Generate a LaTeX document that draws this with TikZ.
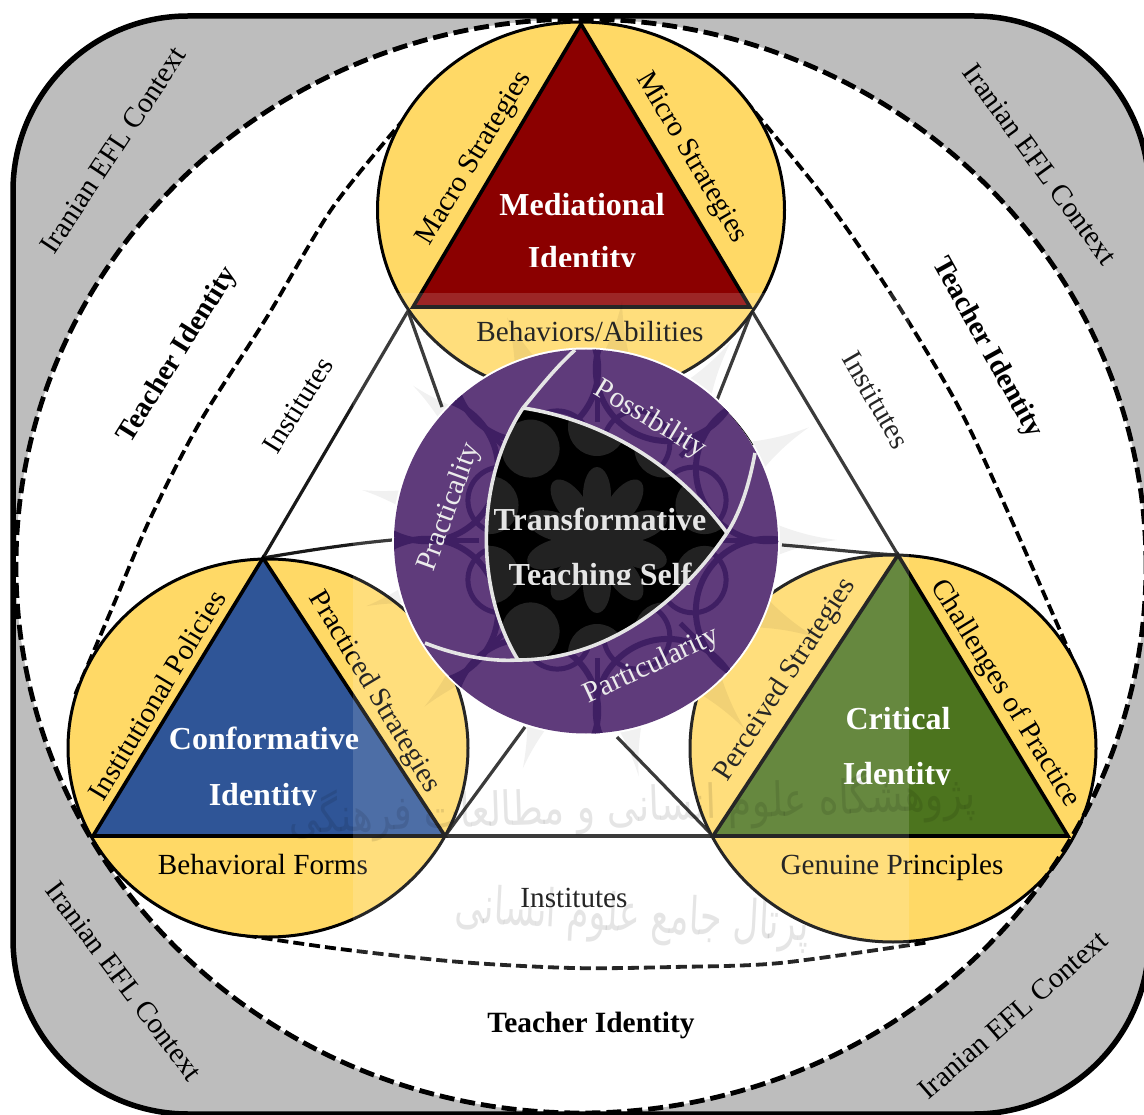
\documentclass[tikz,border=0pt]{standalone}
\usepackage{fontspec}
\usetikzlibrary{calc}
\setmainfont{Liberation Serif}
\newfontfamily\arabicfont[Script=Arabic]{DejaVu Sans}
\TeXXeTstate=1
\definecolor{ctxgrey}{HTML}{BDBDBD}
\definecolor{sun}{HTML}{FFD966}
\definecolor{medred}{HTML}{8B0000}
\definecolor{conblue}{HTML}{2F5597}
\definecolor{critgreen}{HTML}{4C741E}
\definecolor{ringpurple}{HTML}{5F3B7B}
\definecolor{webpurple}{HTML}{3F1F63}
\definecolor{cellgrey}{HTML}{222222}
\tikzset{
  lab/.style={font=\fontsize{29.2}{29.2}\selectfont,inner sep=0pt,text=black},
  rlab/.style={font=\fontsize{29}{29}\selectfont,inner sep=0pt,text=black},
  boldlab/.style={font=\fontsize{29.4}{29.4}\bfseries\selectfont,inner sep=0pt,text=black},
  rboldlab/.style={font=\fontsize{28.6}{28.6}\bfseries\selectfont,inner sep=0pt,text=black},
  inlab/.style={font=\fontsize{29.5}{29.5}\selectfont,inner sep=0pt,text=white!92!black},
  idtitle/.style={font=\fontsize{32}{32}\bfseries\selectfont,inner sep=0pt,text=white,anchor=base},
  disc/.style={fill=sun,draw=black,line width=3pt},
  tri/.style={draw=black,line width=3.6pt,line join=miter},
  wire/.style={draw=black!90,line width=3.2pt},
  outerdash/.style={draw=black,line width=4.8pt,dash pattern=on 15pt off 6pt},
  arcdash/.style={draw=black,line width=3.8pt,dash pattern=on 11pt off 5pt},
  whitearc/.style={draw=white!90!black,line width=3.6pt},
  web/.style={draw=webpurple,line width=6pt},
  wmark/.style={opacity=.10,text=black,inner sep=0pt}
}
\begin{document}
\begin{tikzpicture}[x=1pt,y=-1pt]
\useasboundingbox (0,0) rectangle (1144,1115);
\clip (0,0) rectangle (1144,1115);
% named points
\coordinate (ma) at (581,24);  \coordinate (mb) at (413,307); \coordinate (mc) at (750,307);
\coordinate (ca) at (263,558); \coordinate (cb) at (93,836);  \coordinate (cc) at (445,836);
\coordinate (ka) at (898,555); \coordinate (kb) at (713,836); \coordinate (kc) at (1068,836);
\coordinate (ml) at (408,311); \coordinate (mr) at (752,311);
\coordinate (ctr) at (586,541.5);
\coordinate (lat) at (597,540);
\coordinate (pa) at (523,408); \coordinate (pb) at (727,533); \coordinate (pc) at (518,660);
% context
\fill[ctxgrey,rounded corners=175pt] (13,16) rectangle (1149,1114);
\fill[white] (581,566) ellipse [x radius=565pt,y radius=547pt];
% identity arcs
\draw[arcdash] plot[smooth] coordinates {(405,118) (333,207) (267,317) (200,422) (150,519) (113,606) (75,695)};
\draw[arcdash] plot[smooth] coordinates {(745,100) (824,197) (891,294) (957,404) (1007,510) (1075,665)};
\draw[arcdash] plot[smooth] coordinates {(230,933) (340,949) (460,962) (573,968) (673,967) (780,963) (930,942)};
% institute wires
\draw[wire] (ml) -- (ca);
\draw[wire] (mr) -- (ka);
\draw[wire] (cc) -- (kb);
\draw[wire] (ml) -- (442,407);
\draw[wire] (mr) -- (717,400);
\draw[wire] (ca) .. controls (310,550) and (350,544) .. (392,540);
\draw[wire] (ka) .. controls (860,553) and (820,548) .. (782,545);
\draw[wire] (cc) -- (525,727);
\draw[wire] (kb) -- (617,737);
% circles
\draw[disc] (581,210) ellipse [x radius=203.5pt,y radius=188pt];
\draw[disc] (268,748) ellipse [x radius=200pt,y radius=189pt];
\draw[disc] (893,748.5) ellipse [x radius=203pt,y radius=193.5pt];
% triangles
\draw[tri,fill=medred] (ma) -- (mb) -- (mc) -- cycle;
\draw[tri,fill=conblue] (ca) -- (cb) -- (cc) -- cycle;
\draw[tri,fill=critgreen] (ka) -- (kb) -- (kc) -- cycle;
% outer dashed boundary and frame
\draw[outerdash] (581,566) ellipse [x radius=565pt,y radius=547pt];
\draw[black,line width=5.5pt,rounded corners=175pt] (13,16) rectangle (1149,1114);
% labels round the triangles
\node[rlab,rotate=59] (macro) at (475,159) {Macro Strategies};
\node[rlab,rotate=-59.5] (micro) at (691,158) {Micro Strategies};
\node[lab] (behav) at (590,332) {Behaviors/Abilities};
\node[rlab,rotate=59] (inst) at (157,695) {Institutional Policies};
\node[rlab,rotate=-59] (prac) at (374,692) {Practiced Strategies};
\node[lab] (bform) at (263,865) {Behavioral Forms};
\node[rlab,rotate=57] (perc) at (786,680) {Perceived Strategies};
\node[rlab,rotate=-58.5] (chal) at (1005,694) {Challenges of Practice};
\node[lab] (genu) at (892,867) {Genuine Principles};
\node[rlab,rotate=58] (ins1) at (298,405) {Institutes};
\node[rlab,rotate=-60] (ins2) at (876,400) {Institutes};
\node[lab] (ins3) at (574,898) {Institutes};
\node[rboldlab,rotate=58] (ti1) at (178,355) {Teacher Identity};
\node[rboldlab,rotate=-61] (ti2) at (987,348) {Teacher Identity};
\node[boldlab] (ti3) at (591,1025) {Teacher Identity};
\node[rlab,rotate=56.5] (ef1) at (113,150) {Iranian EFL Context};
\node[rlab,rotate=-54] (ef2) at (1040,164) {Iranian EFL Context};
\node[rlab,rotate=-53] (ef3) at (124,981) {Iranian EFL Context};
\node[rlab,rotate=41] (ef4) at (1013,1015) {Iranian EFL Context};
% triangle titles, second lines cut off at the baseline
\node[idtitle] (t1a) at (582,216) {Mediational};
\node[idtitle] (t2a) at (264,749) {Conformative};
\node[idtitle] (t3a) at (898,729) {Critical};
\begin{scope}
\clip (400,230) rectangle (760,267);
\node[idtitle] (t1b) at (582,269) {Identity};
\end{scope}
\begin{scope}
\clip (100,770) rectangle (440,805);
\node[idtitle] (t2b) at (263,805) {Identity};
\end{scope}
\begin{scope}
\clip (720,750) rectangle (1060,784);
\node[idtitle] (t3b) at (897,784) {Identity};
\end{scope}
% translucent watermark panel
\fill[white,opacity=.15] (353,293) rectangle (909,972);
% watermark rosette points
\foreach \a in {0,28,...,336} {
  \fill[black,opacity=.055] ($(lat)+(\a-5:180pt)$) .. controls ($(lat)+(\a-1.5:205pt)$) and ($(lat)+(\a-.5:225pt)$) .. ($(lat)+(\a:240pt)$) .. controls ($(lat)+(\a+.5:225pt)$) and ($(lat)+(\a+1.5:205pt)$) .. ($(lat)+(\a+5:180pt)$) -- cycle;
}
% watermark lettering
\node[wmark,rotate=2,xscale=.81,font=\arabicfont\fontsize{47}{47}\selectfont] (wm1) at (632,806) {\beginR پژوهشگاه علوم انسانی و مطالعات فرهنگی\endR};
\node[wmark,rotate=-3,xscale=.68,font=\arabicfont\fontsize{52}{52}\selectfont] (wm2) at (632,918) {\beginR پرتال جامع علوم انسانی\endR};
% centre disc
\fill[white] (ctr) circle [radius=194pt];
\draw[black,line width=.7pt] (673,372) .. controls (705,388) and (735,415) .. (753,445);
\fill[ringpurple] (ctr) circle [radius=192pt];
\begin{scope}
\clip (ctr) circle [radius=192pt];
\foreach \a in {0,45,...,315} {
  \draw[web] ($(lat)+(\a+22.5:185pt)$) circle [radius=72pt];
  \draw[web,line width=5pt] ($(lat)+(\a:118pt)$) -- ($(lat)+(\a:210pt)$);
  \draw[web,line width=5pt] ($(lat)+(\a+22.5:104pt)$) circle [radius=33pt];
}
\end{scope}
% black Reuleaux centre with its watermark cells
\begin{scope}
\clip (pa) .. controls (590,418) and (670,455) .. (pb) .. controls (675,610) and (600,660) .. (pc) .. controls (475,590) and (475,480) .. (pa) -- cycle;
\fill[black] (450,380) rectangle (750,680);
\foreach \a in {0,36,...,324} {
  \fill[cellgrey,rotate around={\a+18:(lat)}] ($(lat)+(45pt,0pt)$) ellipse [x radius=28pt,y radius=14pt];
}
\fill[cellgrey] (lat) circle [radius=30pt];
\foreach \a in {18,54,...,342} {
  \fill[cellgrey] ($(lat)+(\a:113pt)$) circle [radius=29pt];
}
\end{scope}
\draw[whitearc] (pa) .. controls (590,418) and (670,455) .. (pb);
\draw[whitearc] (pb) .. controls (675,610) and (600,660) .. (pc);
\draw[whitearc] (pc) .. controls (475,590) and (475,480) .. (pa);
\draw[whitearc] (pa) .. controls (538,390) and (555,368) .. (575,350);
\draw[whitearc] (pb) .. controls (742,510) and (750,480) .. (755,453);
\draw[whitearc] (pc) .. controls (490,662) and (455,655) .. (425,643);
% centre labels
\node[inlab,rotate=-31] (poss) at (650,420) {Possibility};
\node[inlab,rotate=70] (prct) at (450,507) {Practicality};
\node[inlab,rotate=25] (part) at (652,666) {Particularity};
\node[idtitle,text=white!90!black] (t4a) at (600,530) {Transformative};
\begin{scope}
\clip (480,545) rectangle (720,584);
\node[idtitle,text=white!90!black] (t4b) at (600,585) {Teaching Self};
\end{scope}
\end{tikzpicture}
\end{document}
